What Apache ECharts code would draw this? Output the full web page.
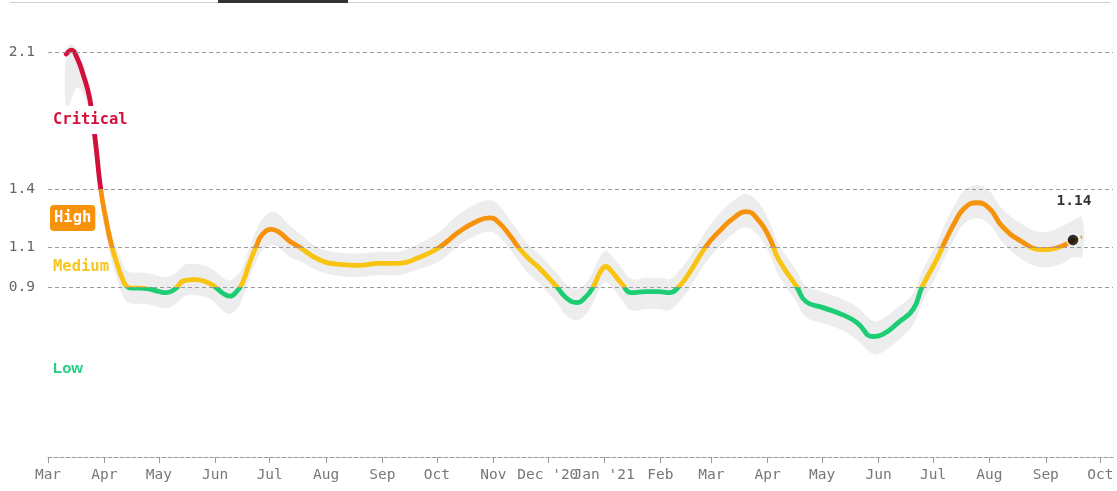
<!DOCTYPE html>
<html><head><meta charset="utf-8">
<script src="https://cdn.jsdelivr.net/npm/echarts@6/dist/echarts.min.js"></script>
<style>html,body{margin:0;padding:0;background:#fff}#c{width:1117px;height:491px}</style>
</head><body><div id="c"></div>
<script>
// ---- data ----
const dates = ['2020-03-11','2020-03-14','2020-03-17','2020-03-20','2020-03-24','2020-03-27','2020-03-30','2020-04-02','2020-04-05','2020-04-09',
'2020-04-11','2020-04-13','2020-04-16','2020-04-20','2020-04-26','2020-05-01','2020-05-05','2020-05-10','2020-05-15','2020-05-21',
'2020-05-26','2020-05-31','2020-06-05','2020-06-09','2020-06-13','2020-06-16','2020-06-20','2020-06-24','2020-06-27','2020-07-02',
'2020-07-06','2020-07-12','2020-07-17','2020-07-28','2020-08-08','2020-08-19','2020-08-30','2020-09-10','2020-09-21','2020-10-02',
'2020-10-13','2020-10-22','2020-10-30','2020-11-04','2020-11-11','2020-11-15','2020-11-21','2020-11-26','2020-12-06','2020-12-11',
'2020-12-17','2020-12-22','2020-12-26','2020-12-30','2021-01-02','2021-01-05','2021-01-11','2021-01-16','2021-01-24','2021-01-31',
'2021-02-06','2021-02-11','2021-02-17','2021-02-26','2021-03-06','2021-03-13','2021-03-20','2021-03-27','2021-04-02','2021-04-07',
'2021-04-17','2021-04-22','2021-05-01','2021-05-12','2021-05-20','2021-05-29','2021-06-03','2021-06-12','2021-06-20','2021-06-25',
'2021-07-03','2021-07-08','2021-07-13','2021-07-18','2021-07-25','2021-08-01','2021-08-08','2021-08-19','2021-08-30','2021-09-09',
'2021-09-16'];
const rt = [2.09,2.11,2.07,1.995,1.86,1.65,1.40,1.24,1.11,0.99,
0.94,0.905,0.893,0.893,0.888,0.876,0.87,0.89,0.932,0.937,
0.929,0.906,0.869,0.852,0.878,0.92,1.024,1.117,1.168,1.194,
1.18,1.133,1.105,1.04,1.015,1.01,1.02,1.02,1.05,1.10,
1.18,1.23,1.253,1.229,1.152,1.10,1.04,0.999,0.90,0.845,
0.82,0.85,0.90,0.978,1.004,0.98,0.912,0.87,0.876,0.876,
0.87,0.90,0.973,1.106,1.19,1.25,1.285,1.24,1.15,1.04,
0.90,0.825,0.795,0.758,0.718,0.646,0.656,0.718,0.785,0.90,
1.04,1.14,1.23,1.30,1.33,1.30,1.21,1.13,1.09,1.105,
1.14];
const ciBelow = [0.30,0.25,0.15,0.10,0.08,0.08,0.08,0.08,0.08,0.08,
0.08,0.08,0.08,0.08,0.08,0.08,0.08,0.08,0.08,0.08,
0.08,0.08,0.09,0.09,0.09,0.08,0.08,0.08,0.08,0.08,
0.08,0.08,0.07,0.06,0.06,0.06,0.06,0.06,0.06,0.07,
0.07,0.07,0.07,0.07,0.07,0.07,0.08,0.08,0.08,0.09,
0.09,0.09,0.08,0.08,0.08,0.08,0.08,0.09,0.09,0.09,
0.09,0.08,0.08,0.08,0.08,0.08,0.08,0.08,0.08,0.08,
0.08,0.08,0.08,0.08,0.09,0.09,0.09,0.09,0.08,0.08,
0.08,0.08,0.08,0.08,0.08,0.08,0.08,0.09,0.09,0.09,
0.09];
const ciAbove = [0.02,0.03,0.04,0.05,0.06,0.06,0.06,0.07,0.07,0.08,
0.08,0.08,0.08,0.08,0.08,0.08,0.08,0.08,0.08,0.08,
0.08,0.08,0.08,0.08,0.08,0.08,0.08,0.08,0.08,0.09,
0.09,0.08,0.07,0.06,0.06,0.06,0.06,0.06,0.07,0.08,
0.09,0.09,0.09,0.09,0.08,0.08,0.07,0.07,0.07,0.07,
0.07,0.07,0.08,0.08,0.08,0.08,0.08,0.07,0.07,0.07,
0.07,0.08,0.08,0.08,0.09,0.09,0.09,0.09,0.08,0.08,
0.08,0.08,0.08,0.08,0.08,0.08,0.08,0.08,0.08,0.08,
0.08,0.09,0.09,0.09,0.09,0.09,0.09,0.09,0.09,0.10,
0.10];
// projected tail after latest value (dotted)
const tailDates = ['2021-09-16','2021-09-21'];
const tailRt = [1.14,1.155];
const tailBelow = [0.09,0.10];
const tailAbove = [0.10,0.10];
const latestLabel = '1.14';

const tickDates = ['2020-03-01','2020-04-01','2020-05-01','2020-06-01','2020-07-01','2020-08-01','2020-09-01','2020-10-01','2020-11-01','2020-12-01',
'2021-01-01','2021-02-01','2021-03-01','2021-04-01','2021-05-01','2021-06-01','2021-07-01','2021-08-01','2021-09-01','2021-10-01'];
const tickLabels = ['Mar','Apr','May','Jun','Jul','Aug','Sep','Oct','Nov',"Dec '20","Jan '21",'Feb','Mar','Apr','May','Jun','Jul','Aug','Sep','Oct'];
const gridValues = [2.1,1.4,1.1,0.9];
const gridLabels = ['2.1','1.4','1.1','0.9'];
const levelNames = ['Critical','High','Medium','Low'];
const xStart = '2020-03-01', xEnd = '2021-10-08';

// ---- build ----
const ts = s => Date.UTC(+s.slice(0,4), +s.slice(5,7)-1, +s.slice(8,10));
const tickVals = tickDates.map(ts);
const labelMap = {}; tickVals.forEach((v,i)=>labelMap[v]=tickLabels[i]);
const bDates = dates.concat(tailDates.slice(1));
const bRt = rt.concat(tailRt.slice(1));
const bBelow = ciBelow.concat(tailBelow.slice(1));
const bAbove = ciAbove.concat(tailAbove.slice(1));

const C = {red:'#d2103c', orange:'#f7920b', yellow:'#f9c312', green:'#1ccd74'};
const MONO = '"DejaVu Sans Mono", monospace';

const chart = echarts.init(document.getElementById('c'), null, {renderer:'canvas'});
chart.setOption({
  animation:false,
  backgroundColor:'#fff',
  grid:{left:48, right:4, top:13, bottom:34},
  xAxis:{type:'value', min:ts(xStart), max:ts(xEnd),
    axisLine:{show:true, lineStyle:{color:'#9a9a9a', width:1, type:[4,2]}},
    axisTick:{show:true, customValues:tickVals, length:6, lineStyle:{color:'#9a9a9a'}},
    axisLabel:{show:true, customValues:tickVals, formatter:v=>labelMap[v]||'', color:'#777', fontFamily:MONO, fontSize:14.5, margin:11},
    splitLine:{show:false}},
  yAxis:{type:'value', min:0.03, max:2.3, show:false},
  visualMap:{type:'piecewise', show:false, seriesIndex:2, dimension:1,
    pieces:[{lt:0.9,color:C.green},{gte:0.9,lt:1.1,color:C.yellow},{gte:1.1,lt:1.4,color:C.orange},{gte:1.4,color:C.red}]},
  series:[
    {type:'line', data:[], z:1, silent:true,
      markLine:{symbol:'none', silent:true, animation:false,
        lineStyle:{color:'#9a9a9a', type:[4,3], width:1},
        label:{position:'start', distance:13, color:'#666', fontFamily:MONO, fontSize:14.5, formatter:'{b}'},
        data:gridValues.map((v,i)=>({yAxis:v, name:gridLabels[i]}))}},
    {type:'custom', z:2, silent:true, data:[[ts(bDates[0]), bRt[0]]],
      renderItem:(params, api)=>{
        const up = bDates.map((d,i)=>api.coord([ts(d), bRt[i]+bAbove[i]]));
        const lo = bDates.map((d,i)=>api.coord([ts(d), bRt[i]-bBelow[i]])).reverse();
        return {type:'polygon', shape:{points:up.concat(lo), smooth:0.4}, style:{fill:'rgba(0,0,0,0.07)'}};
      }},
    {type:'line', z:3, symbol:'none', smooth:0.5, lineStyle:{width:4.8, cap:'round', join:'round'},
      data:dates.map((d,i)=>[ts(d), rt[i]])},
    {type:'line', z:3, symbol:'none', lineStyle:{width:3, color:C.orange, type:[2,2]},
      data:tailDates.map((d,i)=>[ts(d), tailRt[i]])},
    {type:'scatter', z:5, symbolSize:12, itemStyle:{color:'#000', borderColor:'#fff', borderWidth:1.5},
      label:{show:true, position:'top', distance:24, offset:[1,0], formatter:latestLabel,
        fontFamily:MONO, fontWeight:'bold', fontSize:14.5, color:'#000'},
      data:[[ts(dates[dates.length-1]), rt[rt.length-1]]]}
  ],
  graphic:[
    {type:'rect', z:10, shape:{x:10, y:2, width:1100, height:1}, style:{fill:'#cfcfcf'}},
    {type:'rect', z:11, shape:{x:218, y:0, width:130, height:3}, style:{fill:'#333'}},
    {type:'text', z:10, left:50, top:106, style:{text:levelNames[0], fill:C.red, fontFamily:MONO, fontWeight:'bold', fontSize:15.5, backgroundColor:'#fff', padding:[6,3]}},
    {type:'text', z:10, left:50, top:205, style:{text:levelNames[1], fill:'#fff', fontFamily:MONO, fontWeight:'bold', fontSize:15.5, backgroundColor:C.orange, borderRadius:4, padding:[5,4]}},
    {type:'text', z:10, left:53, top:259, style:{text:levelNames[2], fill:'#f6c520', fontFamily:MONO, fontWeight:'bold', fontSize:15.5}},
    {type:'text', z:10, left:53, top:361, style:{text:levelNames[3], fill:'#22d07f', fontFamily:'"Liberation Sans", Arial, sans-serif', fontWeight:'bold', fontSize:15}}
  ]
});
</script>
</body></html>
